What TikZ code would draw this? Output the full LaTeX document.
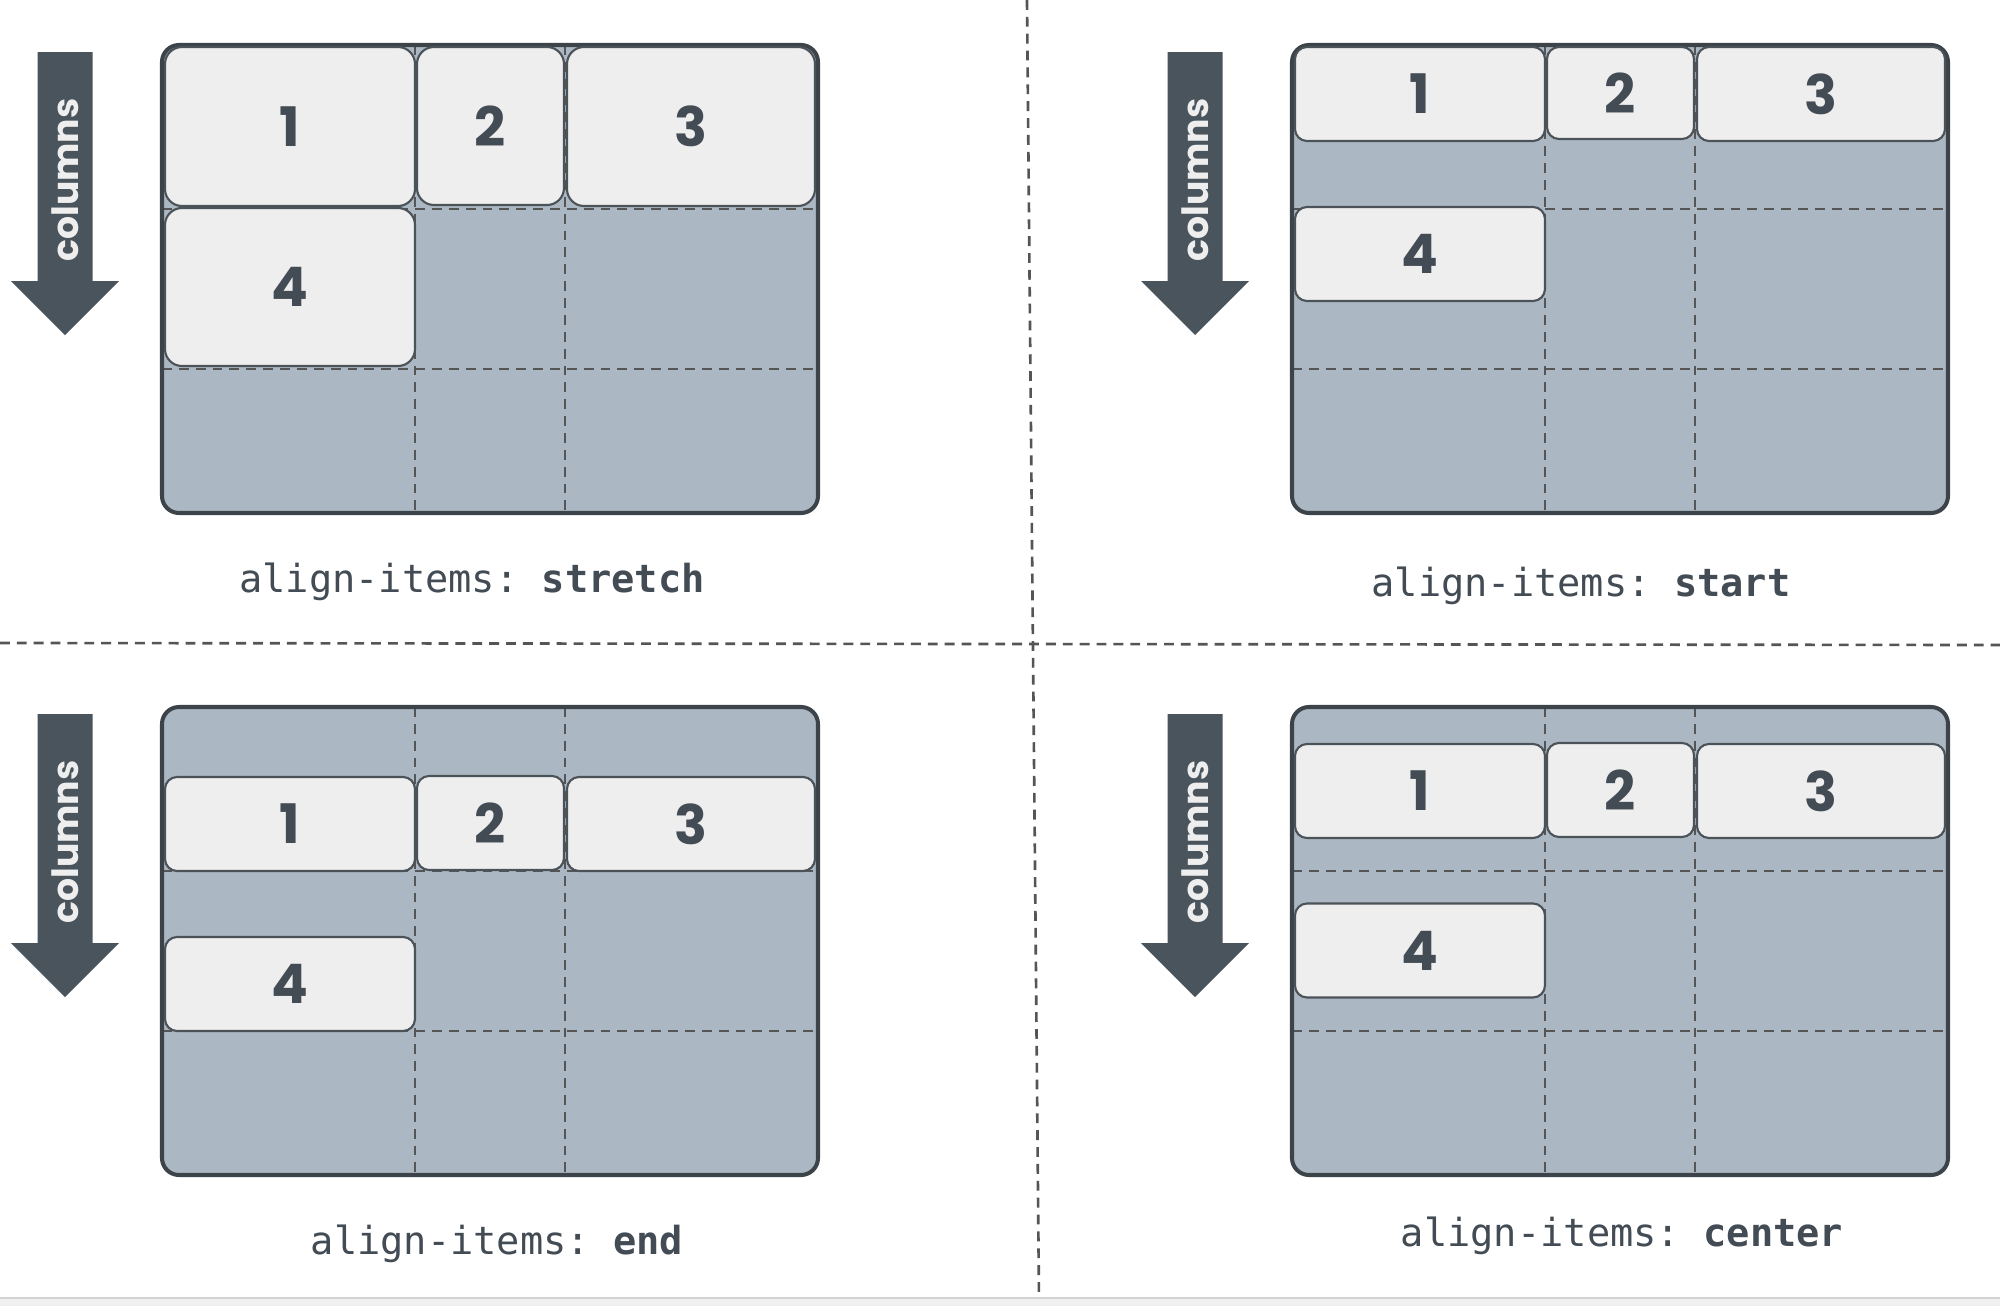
\documentclass[tikz,border=0pt]{standalone}
\usepackage{fontspec}
\setmonofont{DejaVu Sans Mono}
\newfontfamily\numfont{Poppins}
\definecolor{panelbg}{HTML}{ABB8C3}
\definecolor{rim}{HTML}{3C4349}
\definecolor{itembg}{HTML}{EEEEEE}
\definecolor{itemrim}{HTML}{4B5258}
\definecolor{arrowc}{HTML}{4A545C}
\definecolor{textc}{HTML}{434C54}
\definecolor{dashc}{HTML}{555555}
\tikzset{
  panel/.style={draw=rim,line width=1.15pt,rounded corners=1.7mm},
  gridline/.style={draw=dashc,line width=0.6pt,dash pattern=on 2.8pt off 2pt},
  sepline/.style={draw=dashc,line width=0.75pt,dash pattern=on 2.8pt off 2pt},
  item/.style={draw=itemrim,fill=itembg,line width=0.6pt,rounded corners=1.2mm,
    inner sep=0pt,text=textc,font=\numfont\bfseries\fontsize{15.5}{18}\selectfont},
  colone/.style={item,minimum width=25mm},
  coltwo/.style={item,minimum width=14.7mm},
  colthree/.style={item,minimum width=24.8mm},
  codelabel/.style={text=textc,font=\ttfamily\fontsize{11}{13}\selectfont}
}
% container, grid tracks and the direction arrow of one panel
\newcommand{\flexgrid}[1]{%
  \fill[panelbg,rounded corners=1.7mm] (0,0) rectangle (656,468);
  \foreach \gx in {253,403} \draw[gridline] (\gx,0) -- (\gx,468);
  \foreach \gy in {164,324} \draw[gridline] (0,\gy) -- (656,\gy);
  \draw[panel] (0,0) rectangle (656,468);
  \fill[arrowc] (-124.5,7) -- (-69.5,7) -- (-69.5,236) -- (-43,236)
    -- (-97,290) -- (-151,236) -- (-124.5,236) -- cycle;
  \node[rotate=90,text=itembg,font=\numfont\bfseries\fontsize{10.3}{12}\selectfont]
    (#1-dir) at (-97,135) {columns};
}
\begin{document}
\begin{tikzpicture}[x=0.1mm,y=-0.1mm]
\useasboundingbox (0,0) rectangle (2000,1306);
\fill[white] (0,0) rectangle (2000,1306);
% separators
\draw[sepline] (0,643) -- (2000,645);
\draw[sepline] (1027,0) -- (1039,1300);
\fill[gray!12] (0,1298) rectangle (2000,1306);
\draw[gray!35,line width=0.5pt] (0,1298) -- (2000,1298);

% stretch
\begin{scope}[shift={(162,45)}]
\flexgrid{s}
\node[colone,rounded corners=1.7mm,minimum height=15.9mm] (s1) at (128,81.5) {1};
\node[coltwo,rounded corners=1.7mm,minimum height=15.8mm] (s2) at (328.5,81) {2};
\node[colthree,rounded corners=1.7mm,minimum height=15.9mm] (s3) at (529,81.5) {3};
\node[colone,rounded corners=1.7mm,minimum height=15.8mm] (s4) at (128,242) {4};
\end{scope}
\node[codelabel] (lbl-s) at (472,582) {align-items: \textbf{stretch}};

% start
\begin{scope}[shift={(1292,45)}]
\flexgrid{t}
\node[colone,minimum height=9.4mm] (t1) at (128,49) {1};
\node[coltwo,minimum height=9.2mm] (t2) at (328.5,48) {2};
\node[colthree,minimum height=9.4mm] (t3) at (529,49) {3};
\node[colone,minimum height=9.4mm] (t4) at (128,209) {4};
\end{scope}
\node[codelabel] (lbl-t) at (1581,586) {align-items: \textbf{start}};

% end
\begin{scope}[shift={(162,707)}]
\flexgrid{e}
\node[colone,minimum height=9.4mm] (e1) at (128,117) {1};
\node[coltwo,minimum height=9.4mm] (e2) at (328.5,116) {2};
\node[colthree,minimum height=9.4mm] (e3) at (529,117) {3};
\node[colone,minimum height=9.4mm] (e4) at (128,277) {4};
\end{scope}
\node[codelabel] (lbl-e) at (497,1244) {align-items: \textbf{end}};

% center
\begin{scope}[shift={(1292,707)}]
\flexgrid{c}
\node[colone,minimum height=9.4mm] (c1) at (128,84) {1};
\node[coltwo,minimum height=9.4mm] (c2) at (328.5,83) {2};
\node[colthree,minimum height=9.4mm] (c3) at (529,84) {3};
\node[colone,minimum height=9.4mm] (c4) at (128,243.5) {4};
\end{scope}
\node[codelabel] (lbl-c) at (1622,1236) {align-items: \textbf{center}};
\end{tikzpicture}
\end{document}
